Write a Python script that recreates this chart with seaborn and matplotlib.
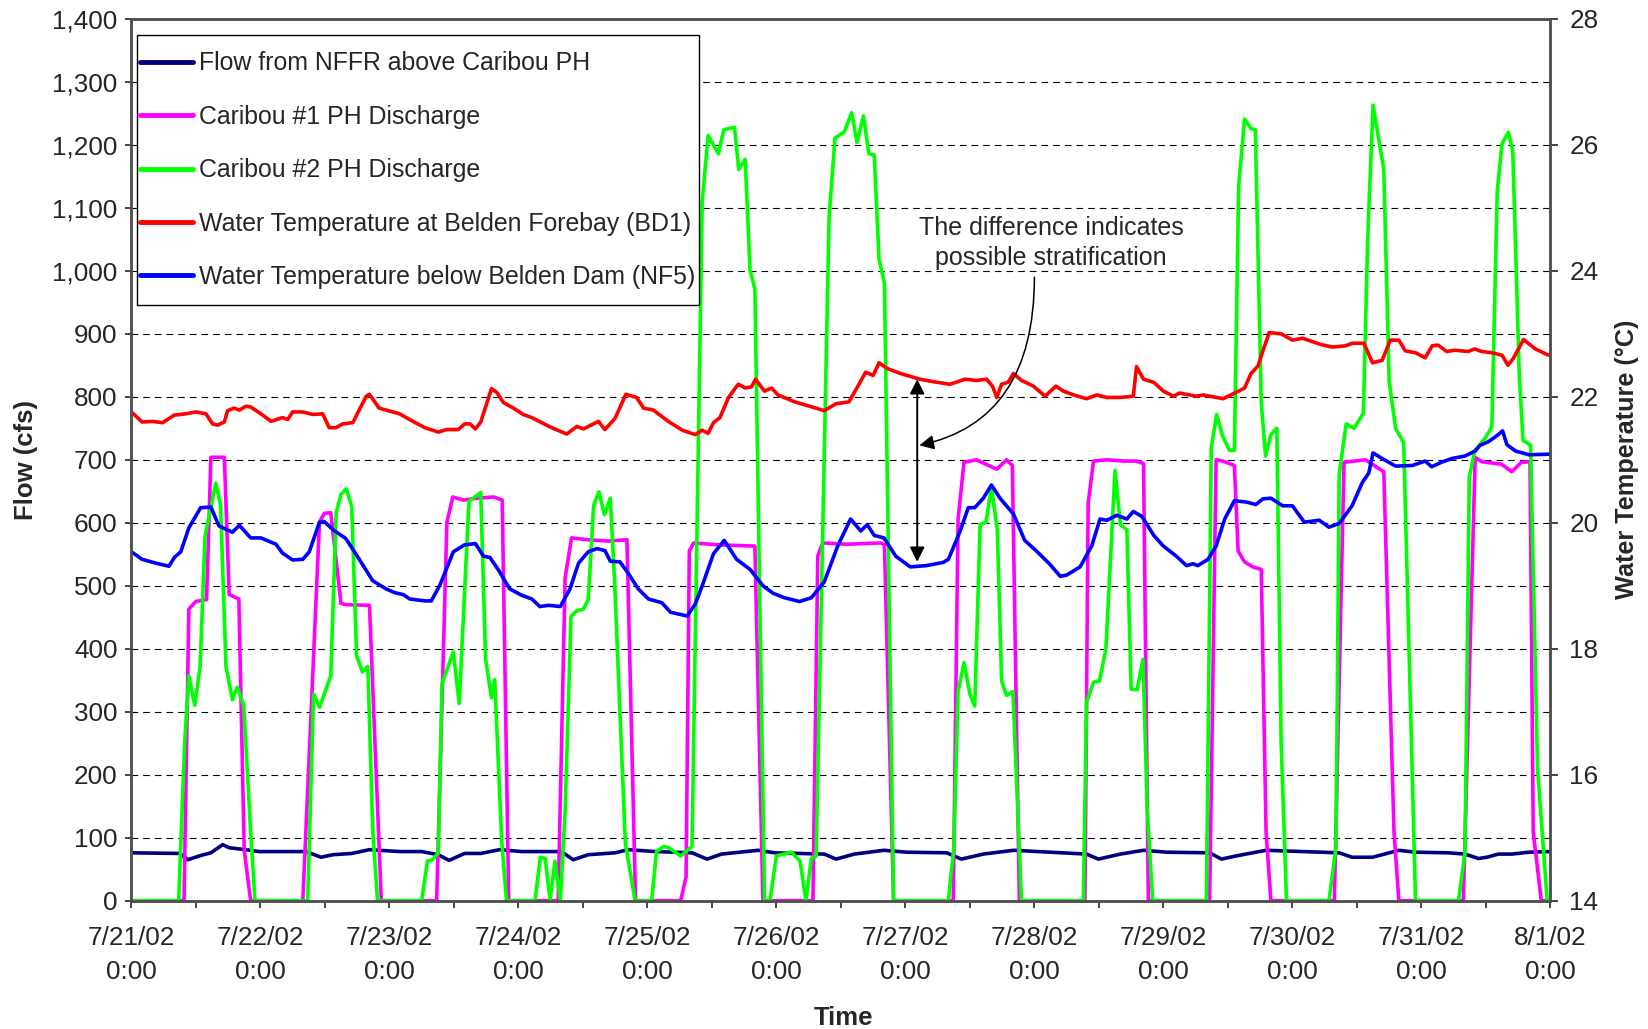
import numpy as np
import pandas as pd
import matplotlib
matplotlib.use("Agg")
import matplotlib.pyplot as plt
import matplotlib.dates as mdates
from matplotlib.lines import Line2D
from matplotlib.legend_handler import HandlerLine2D
from matplotlib.ticker import FuncFormatter, MultipleLocator
import seaborn as sns

sns.set_style("ticks")
plt.rcParams["font.family"] = ["Liberation Sans", "DejaVu Sans"]
plt.rcParams["font.size"] = 18

START = pd.Timestamp("2002-07-21 00:00")

# (hours after 7/21/02 0:00, value)
nffr_flow = [(0, 76), (9, 75), (10.5, 65), (13, 72), (14.8, 76), (17, 89), (18.2, 84), (21.3, 81), (23.8, 78),
             (32.5, 78), (35.3, 69), (37.5, 73), (41, 75), (44.3, 81), (49.9, 78), (54, 78), (57.1, 73),
             (59.1, 64), (62, 75), (65, 75), (68.5, 81), (72.6, 78), (80, 78), (82.2, 65), (85, 73), (90, 76),
             (92.4, 81), (97.4, 78), (104.3, 76), (107.1, 66), (109.8, 74), (116.6, 80), (119.7, 76),
             (128.9, 74), (131.1, 66), (134.5, 74), (140, 80), (144.2, 77), (151.7, 76), (154.4, 66),
             (158.5, 74), (164.1, 80), (177.7, 74), (179.9, 66), (184, 74), (188.3, 80), (192.6, 77),
             (200.6, 76), (202.8, 66), (205.5, 71), (211.1, 80), (224.7, 76), (227.1, 69), (230.9, 69),
             (235.8, 80), (238.8, 77), (245, 76), (248.1, 74), (250.6, 67), (252.2, 69), (254.3, 74),
             (256.8, 74), (260, 77), (264, 78)]

caribou1_flow = [(0, 0), (9.8, 0), (10.7, 463), (12, 475), (14, 478), (14.8, 704), (17.3, 704), (18.2, 486),
                 (20, 479), (21, 80), (22.2, 0), (31.9, 0), (35, 601), (35.9, 615), (37.1, 616), (39, 472),
                 (40, 470), (44.3, 469), (46.5, 0), (56.8, 0), (58.7, 601), (59.8, 641), (61.8, 636),
                 (64.3, 639), (67.4, 641), (69, 636), (70.2, 0), (79.4, 0), (80.7, 513), (81.9, 576), (85, 573),
                 (88.7, 571), (92.2, 573), (93.8, 0), (102.2, 0), (103.2, 38), (103.8, 555), (104.6, 568),
                 (109.2, 565), (116, 563), (117.5, 0), (126.8, 0), (127.7, 547), (128.6, 568), (133.2, 566),
                 (139.4, 568), (140.1, 565), (141.8, 0), (152.9, 0), (153.8, 605), (154.9, 696), (157.2, 700),
                 (161, 685), (162.8, 700), (163.9, 691), (165.2, 0), (177.4, 0), (178, 631), (179, 698),
                 (181.5, 700), (184.6, 698), (187, 698), (188.3, 694), (189.2, 0), (200.6, 0), (201.8, 700),
                 (203.1, 698), (205.2, 691), (205.9, 555), (207.1, 538), (208.6, 530), (210.2, 526),
                 (211.1, 109), (212, 0), (223.8, 0), (225.6, 696), (229.6, 700), (233, 681), (234.9, 109),
                 (235.8, 0), (247.8, 0), (250, 704), (251.2, 697), (254.9, 693), (256.8, 681), (258.6, 696),
                 (260.2, 697), (260.8, 109), (262.3, 0), (264, 0)]

caribou2_flow = [(0, 0), (8.8, 0), (9.9, 248), (10.7, 357), (11.8, 310), (12.8, 372), (13.7, 578), (15.7, 663),
                 (16.6, 628), (17.6, 372), (18.8, 319), (19.7, 339), (20.9, 310), (22.2, 110), (23, 0),
                 (32.8, 0), (33.9, 328), (35, 307), (37.1, 357), (38.1, 616), (39, 645), (40, 654), (41, 626),
                 (41.9, 389), (43, 363), (44, 372), (44.9, 113), (45.8, 0), (54, 0), (55.1, 63), (56, 65),
                 (57.1, 76), (57.8, 345), (59.9, 395), (61, 313), (62.8, 634), (65, 648), (65.9, 384),
                 (67, 322), (67.6, 351), (68.9, 95), (69.8, 0), (75.1, 0), (76.1, 69), (77, 67), (77.9, 0),
                 (78.8, 63), (79.8, 0), (80.7, 142), (81.8, 451), (82.8, 460), (84.1, 463), (85, 478),
                 (86, 628), (87, 649), (88, 613), (89.1, 639), (89.9, 507), (91.9, 92), (93.7, 0), (96.8, 0),
                 (97.7, 78), (99, 86), (100, 84), (102.2, 71), (104.3, 86), (106.2, 1110), (107.3, 1215),
                 (109.2, 1186), (110.2, 1224), (112.2, 1228), (113, 1161), (114.2, 1177), (115.1, 1001),
                 (116, 971), (117.8, 0), (118.8, 0), (120, 71), (122.8, 77), (124.4, 63), (125.5, 0),
                 (126.5, 67), (127.4, 71), (129.8, 1085), (130.9, 1211), (132.6, 1220), (134, 1251),
                 (135, 1204), (136.2, 1246), (137.2, 1186), (138.2, 1184), (139.1, 1018), (140.1, 980),
                 (141.8, 0), (152, 0), (153, 84), (153.8, 332), (154.9, 378), (156, 328), (156.9, 309),
                 (157.9, 597), (159, 601), (160, 656), (161.1, 589), (161.9, 349), (162.8, 326), (164, 332),
                 (165.6, 0), (177.1, 0), (177.7, 315), (179, 347), (180.1, 349), (181.3, 400), (183, 683),
                 (184, 597), (185.2, 589), (186, 336), (187.1, 335), (188.2, 383), (189, 143), (190, 0),
                 (200, 0), (200.9, 719), (201.9, 772), (203, 738), (204.3, 715), (205.2, 715), (206, 1135),
                 (207.1, 1241), (208.3, 1226), (209.1, 1224), (210.2, 791), (211, 706), (212, 740),
                 (213.1, 750), (213.9, 252), (214.9, 0), (222.8, 0), (224.1, 84), (224.7, 677), (226, 757),
                 (227.5, 750), (229.2, 774), (230, 1051), (231, 1263), (233, 1161), (234, 824), (235.2, 750),
                 (236.7, 727), (238.9, 0), (246.9, 0), (248.1, 76), (248.9, 672), (249.9, 714), (251.9, 735),
                 (253.1, 752), (254.1, 1126), (255, 1202), (256.2, 1220), (257, 1189), (258.2, 836),
                 (258.9, 731), (260.3, 723), (261.6, 210), (263.4, 0), (264, 0)]

bd1_temp = [(0, 21.76), (2.0, 21.60), (3.9, 21.61), (5.8, 21.59), (8.0, 21.71), (10.1, 21.73), (12.0, 21.76),
            (13.9, 21.73), (15.1, 21.57), (16.0, 21.55), (17.3, 21.60), (17.9, 21.78), (19.1, 21.82),
            (20.1, 21.79), (21.3, 21.85), (22.2, 21.84), (24.1, 21.73), (26.0, 21.61), (28.1, 21.67),
            (29.1, 21.64), (30.0, 21.76), (31.9, 21.76), (33.7, 21.72), (35.6, 21.73), (36.8, 21.51),
            (38.1, 21.51), (39.3, 21.57), (41.2, 21.59), (43.7, 22.01), (44.3, 22.04), (46.1, 21.82),
            (47.4, 21.79), (49.9, 21.73), (52.4, 21.61), (54.6, 21.51), (57.1, 21.44), (58.6, 21.48),
            (60.8, 21.48), (62.0, 21.57), (63.0, 21.57), (64.0, 21.49), (65.0, 21.60), (67.0, 22.13),
            (68.0, 22.07), (69.2, 21.91), (71.1, 21.82), (72.9, 21.72), (74.5, 21.67), (78.2, 21.51),
            (81.0, 21.41), (82.9, 21.53), (84.1, 21.49), (86.9, 21.61), (88.1, 21.48), (90.0, 21.66),
            (92.0, 22.04), (94.0, 21.99), (95.3, 21.82), (97.1, 21.79), (99.9, 21.61), (102.5, 21.47),
            (104.9, 21.40), (106.2, 21.47), (107.3, 21.42), (108.3, 21.59), (109.5, 21.67), (111.1, 21.99),
            (112.9, 22.20), (114.2, 22.14), (115.4, 22.16), (116.1, 22.28), (117.8, 22.09), (119.1, 22.14),
            (120.3, 22.03), (123.4, 21.92), (125.8, 21.86), (128.9, 21.78), (131.1, 21.89), (133.5, 21.92),
            (135.1, 22.16), (136.6, 22.39), (138.0, 22.34), (139.1, 22.54), (140.6, 22.45), (143.1, 22.37),
            (146.7, 22.28), (149.2, 22.24), (152.3, 22.20), (155.1, 22.28), (157.2, 22.26), (159.1, 22.28),
            (160.2, 22.17), (161.0, 21.99), (161.9, 22.20), (163.1, 22.23), (164.1, 22.37), (165.6, 22.26),
            (167.8, 22.17), (170.0, 22.01), (172.0, 22.17), (173.4, 22.09), (175.3, 22.03), (177.7, 21.97),
            (179.6, 22.03), (181.5, 21.99), (183.9, 21.99), (186.4, 22.01), (187.0, 22.48), (188.3, 22.28),
            (190.2, 22.23), (192.0, 22.09), (193.9, 22.01), (195.0, 22.06), (198.1, 22.01), (199.4, 22.03),
            (203.1, 21.97), (205.5, 22.07), (207.1, 22.14), (208.3, 22.37), (209.6, 22.49), (210.5, 22.73),
            (211.7, 23.02), (213.9, 23.00), (216.0, 22.90), (217.9, 22.93), (221.3, 22.83), (223.4, 22.79),
            (225.9, 22.81), (227.1, 22.85), (229.3, 22.85), (230.9, 22.54), (232.7, 22.58), (234.2, 22.90),
            (235.8, 22.90), (237.0, 22.73), (238.9, 22.70), (240.7, 22.62), (242.0, 22.81), (243.1, 22.82),
            (244.7, 22.72), (246.2, 22.74), (248.7, 22.72), (249.9, 22.76), (251.2, 22.72), (253.1, 22.70),
            (255.0, 22.66), (256.1, 22.50), (257.1, 22.61), (259.0, 22.91), (261.2, 22.76), (263.4, 22.67),
            (264, 22.66)]

nf5_temp = [(0, 19.54), (2.0, 19.42), (4.5, 19.36), (7.0, 19.31), (8.0, 19.45), (9.2, 19.54), (10.7, 19.92),
            (12.9, 20.24), (14.8, 20.25), (16.3, 19.95), (18.8, 19.85), (20.1, 19.96), (22.2, 19.76),
            (24.1, 19.76), (26.9, 19.66), (28.1, 19.52), (30.0, 19.41), (31.9, 19.42), (33.1, 19.54),
            (35.0, 20.01), (35.9, 20.02), (37.5, 19.89), (39.9, 19.75), (42.4, 19.42), (44.9, 19.08),
            (47.4, 18.95), (49.0, 18.89), (50.6, 18.86), (51.8, 18.79), (54.6, 18.76), (55.8, 18.76),
            (57.4, 19.01), (59.9, 19.54), (62.0, 19.65), (64.0, 19.67), (65.5, 19.47), (66.7, 19.45),
            (68.3, 19.25), (70.4, 18.95), (72.6, 18.85), (74.5, 18.79), (76.0, 18.67), (77.6, 18.69),
            (79.8, 18.67), (81.6, 18.95), (83.2, 19.36), (85.0, 19.54), (86.6, 19.59), (88.1, 19.56),
            (89.1, 19.39), (90.9, 19.38), (92.5, 19.19), (94.3, 18.95), (96.2, 18.79), (98.7, 18.73),
            (100.3, 18.58), (103.4, 18.52), (104.9, 18.71), (106.2, 19.00), (108.3, 19.51), (110.3, 19.72),
            (112.6, 19.42), (115.1, 19.26), (117.5, 19.00), (119.4, 18.88), (121.5, 18.81), (124.3, 18.75),
            (126.5, 18.81), (128.9, 19.06), (131.4, 19.63), (133.8, 20.06), (135.7, 19.87), (136.9, 19.97),
            (138.2, 19.80), (140.0, 19.76), (142.2, 19.47), (144.9, 19.30), (147.9, 19.32), (151.0, 19.37),
            (152.0, 19.42), (154.1, 19.85), (155.7, 20.24), (156.9, 20.24), (158.5, 20.39), (160.0, 20.60),
            (161.6, 20.39), (164.1, 20.14), (166.2, 19.72), (168.4, 19.55), (170.9, 19.34), (172.8, 19.15),
            (174.0, 19.17), (176.5, 19.30), (178.7, 19.64), (180.2, 20.06), (181.5, 20.04), (183.3, 20.12),
            (185.2, 20.06), (186.4, 20.18), (188.0, 20.10), (190.2, 19.80), (192.0, 19.63), (194.4, 19.47),
            (196.3, 19.32), (197.5, 19.35), (198.4, 19.32), (200.3, 19.42), (201.8, 19.63), (203.4, 20.06),
            (205.2, 20.35), (207.4, 20.33), (209.2, 20.29), (210.5, 20.38), (212.0, 20.39), (214.2, 20.27),
            (216.0, 20.27), (218.2, 20.01), (221.0, 20.04), (222.8, 19.93), (224.7, 19.99), (227.1, 20.27),
            (229.0, 20.64), (230.2, 20.79), (231.0, 21.11), (232.7, 21.02), (235.2, 20.90), (238.3, 20.91),
            (240.7, 20.98), (241.9, 20.89), (243.7, 20.96), (245.6, 21.02), (248.1, 21.06), (250.0, 21.14),
            (250.9, 21.23), (252.5, 21.29), (254.0, 21.38), (255.1, 21.46), (255.9, 21.24), (257.5, 21.14),
            (260.0, 21.08), (264, 21.09)]

labels = ["Flow from NFFR above Caribou PH", "Caribou #1 PH Discharge", "Caribou #2 PH Discharge",
          "Water Temperature at Belden Forebay (BD1)", "Water Temperature below Belden Dam (NF5)"]
colors = ["#000080", "#FF00FF", "#00FF00", "#FF0000", "#0000FF"]
note = "The difference indicates\npossible stratification"


def to_frame(pairs):
    hrs, vals = zip(*pairs)
    return pd.DataFrame({"time": START + pd.to_timedelta(np.array(hrs), unit="h"), "value": vals})


def at(h):
    return mdates.date2num(START + pd.Timedelta(hours=h))


class BaselineLine(HandlerLine2D):
    # keep the legend line at mid x-height even with a tall handle box
    def create_artists(self, legend, orig_handle, xdescent, ydescent, width, height, fontsize, trans):
        return super().create_artists(legend, orig_handle, xdescent, ydescent, width,
                                      0.7 * fontsize + ydescent, fontsize, trans)


fig = plt.figure(figsize=(16.48, 10.29), dpi=100)
ax = fig.add_axes([0.0797, 0.1247, 0.8611, 0.8569])
ax2 = ax.twinx()

LW = 2.6
for pairs, c in zip([nffr_flow, caribou1_flow, caribou2_flow], colors[:3]):
    sns.lineplot(data=to_frame(pairs), x="time", y="value", ax=ax, color=c, lw=LW,
                 estimator=None, sort=False, legend=False)
for pairs, c in zip([bd1_temp, nf5_temp], colors[3:]):
    sns.lineplot(data=to_frame(pairs), x="time", y="value", ax=ax2, color=c, lw=LW,
                 estimator=None, sort=False, legend=False)

ax.set_xlim(START, START + pd.Timedelta(days=11))
ax.set_ylim(0, 1400)
ax2.set_ylim(14, 28)

ax.yaxis.set_major_locator(MultipleLocator(100))
ax.yaxis.set_major_formatter(FuncFormatter(lambda v, p: f"{v:,.0f}"))
ax2.yaxis.set_major_locator(MultipleLocator(2))

ax.xaxis.set_major_locator(mdates.DayLocator())
ax.xaxis.set_minor_locator(mdates.HourLocator(byhour=12))


def date_label(x, pos):
    d = mdates.num2date(x)
    return f"{d.month}/{d.day}/{d:%y}\n{d.hour}:{d:%M}"


ax.xaxis.set_major_formatter(FuncFormatter(date_label))

ax.yaxis.grid(True, color="black", lw=0.8, linestyle=(0, (6, 4.5)))
ax.set_axisbelow(True)

TICK_FS = 18.8
ax.tick_params(axis="x", which="both", direction="out", length=5, width=1.2, pad=13.5, labelsize=TICK_FS)
ax.tick_params(axis="y", direction="out", length=4.5, width=1.2, pad=5.5, labelsize=TICK_FS)
ax2.tick_params(axis="y", direction="out", length=6, width=1.2, pad=7.5, labelsize=TICK_FS)

for a in (ax, ax2):
    for s in a.spines.values():
        s.set_visible(True)
        s.set_color("#505050")
        s.set_linewidth(1.8)

ax.set_xlabel("Time", fontsize=18.5, fontweight="bold")
ax.xaxis.set_label_coords(0.502, -0.119)
ax.set_ylabel("Flow (cfs)", fontsize=18.5, fontweight="bold")
ax.yaxis.set_label_coords(-0.066, 0.5)
ax2.set_ylabel("Water Temperature (°C)", fontsize=18.2, fontweight="bold", rotation=90)
ax2.yaxis.set_label_coords(1.0452, 0.5)

# annotation: difference between forebay and below-dam temperature
ax2.text(at(171.1), 24.44, note, ha="center", va="center", fontsize=18, linespacing=1.3)
ax2.annotate("", xy=(at(146.2), 22.28), xytext=(at(146.2), 19.38),
             arrowprops=dict(arrowstyle="<|-|>", color="black", lw=1.4, mutation_scale=22,
                             shrinkA=0, shrinkB=0))
ax2.annotate("", xy=(at(146.6), 21.23), xytext=(at(168.0), 23.9),
             arrowprops=dict(arrowstyle="-|>", color="black", lw=1.1, mutation_scale=22,
                             shrinkA=0, shrinkB=0, connectionstyle="angle3,angleA=90,angleB=12"))

handles = [Line2D([0], [0], color=c, lw=3.5) for c in colors]
leg = ax2.legend(handles, labels, loc="upper left", bbox_to_anchor=(0.0037, 0.982), borderaxespad=0,
                 frameon=True, fancybox=False, edgecolor="black", framealpha=1, fontsize=17.9,
                 handlelength=2.1, handletextpad=0.25, handleheight=2.65, labelspacing=0.18,
                 borderpad=0.15, handler_map={Line2D: BaselineLine()})
leg.get_frame().set_linewidth(1.0)

fig.canvas.draw()
for tk in ax.xaxis.get_major_ticks():
    tk.label1.set_linespacing(1.5)

fig.savefig("out.png", dpi=100)
